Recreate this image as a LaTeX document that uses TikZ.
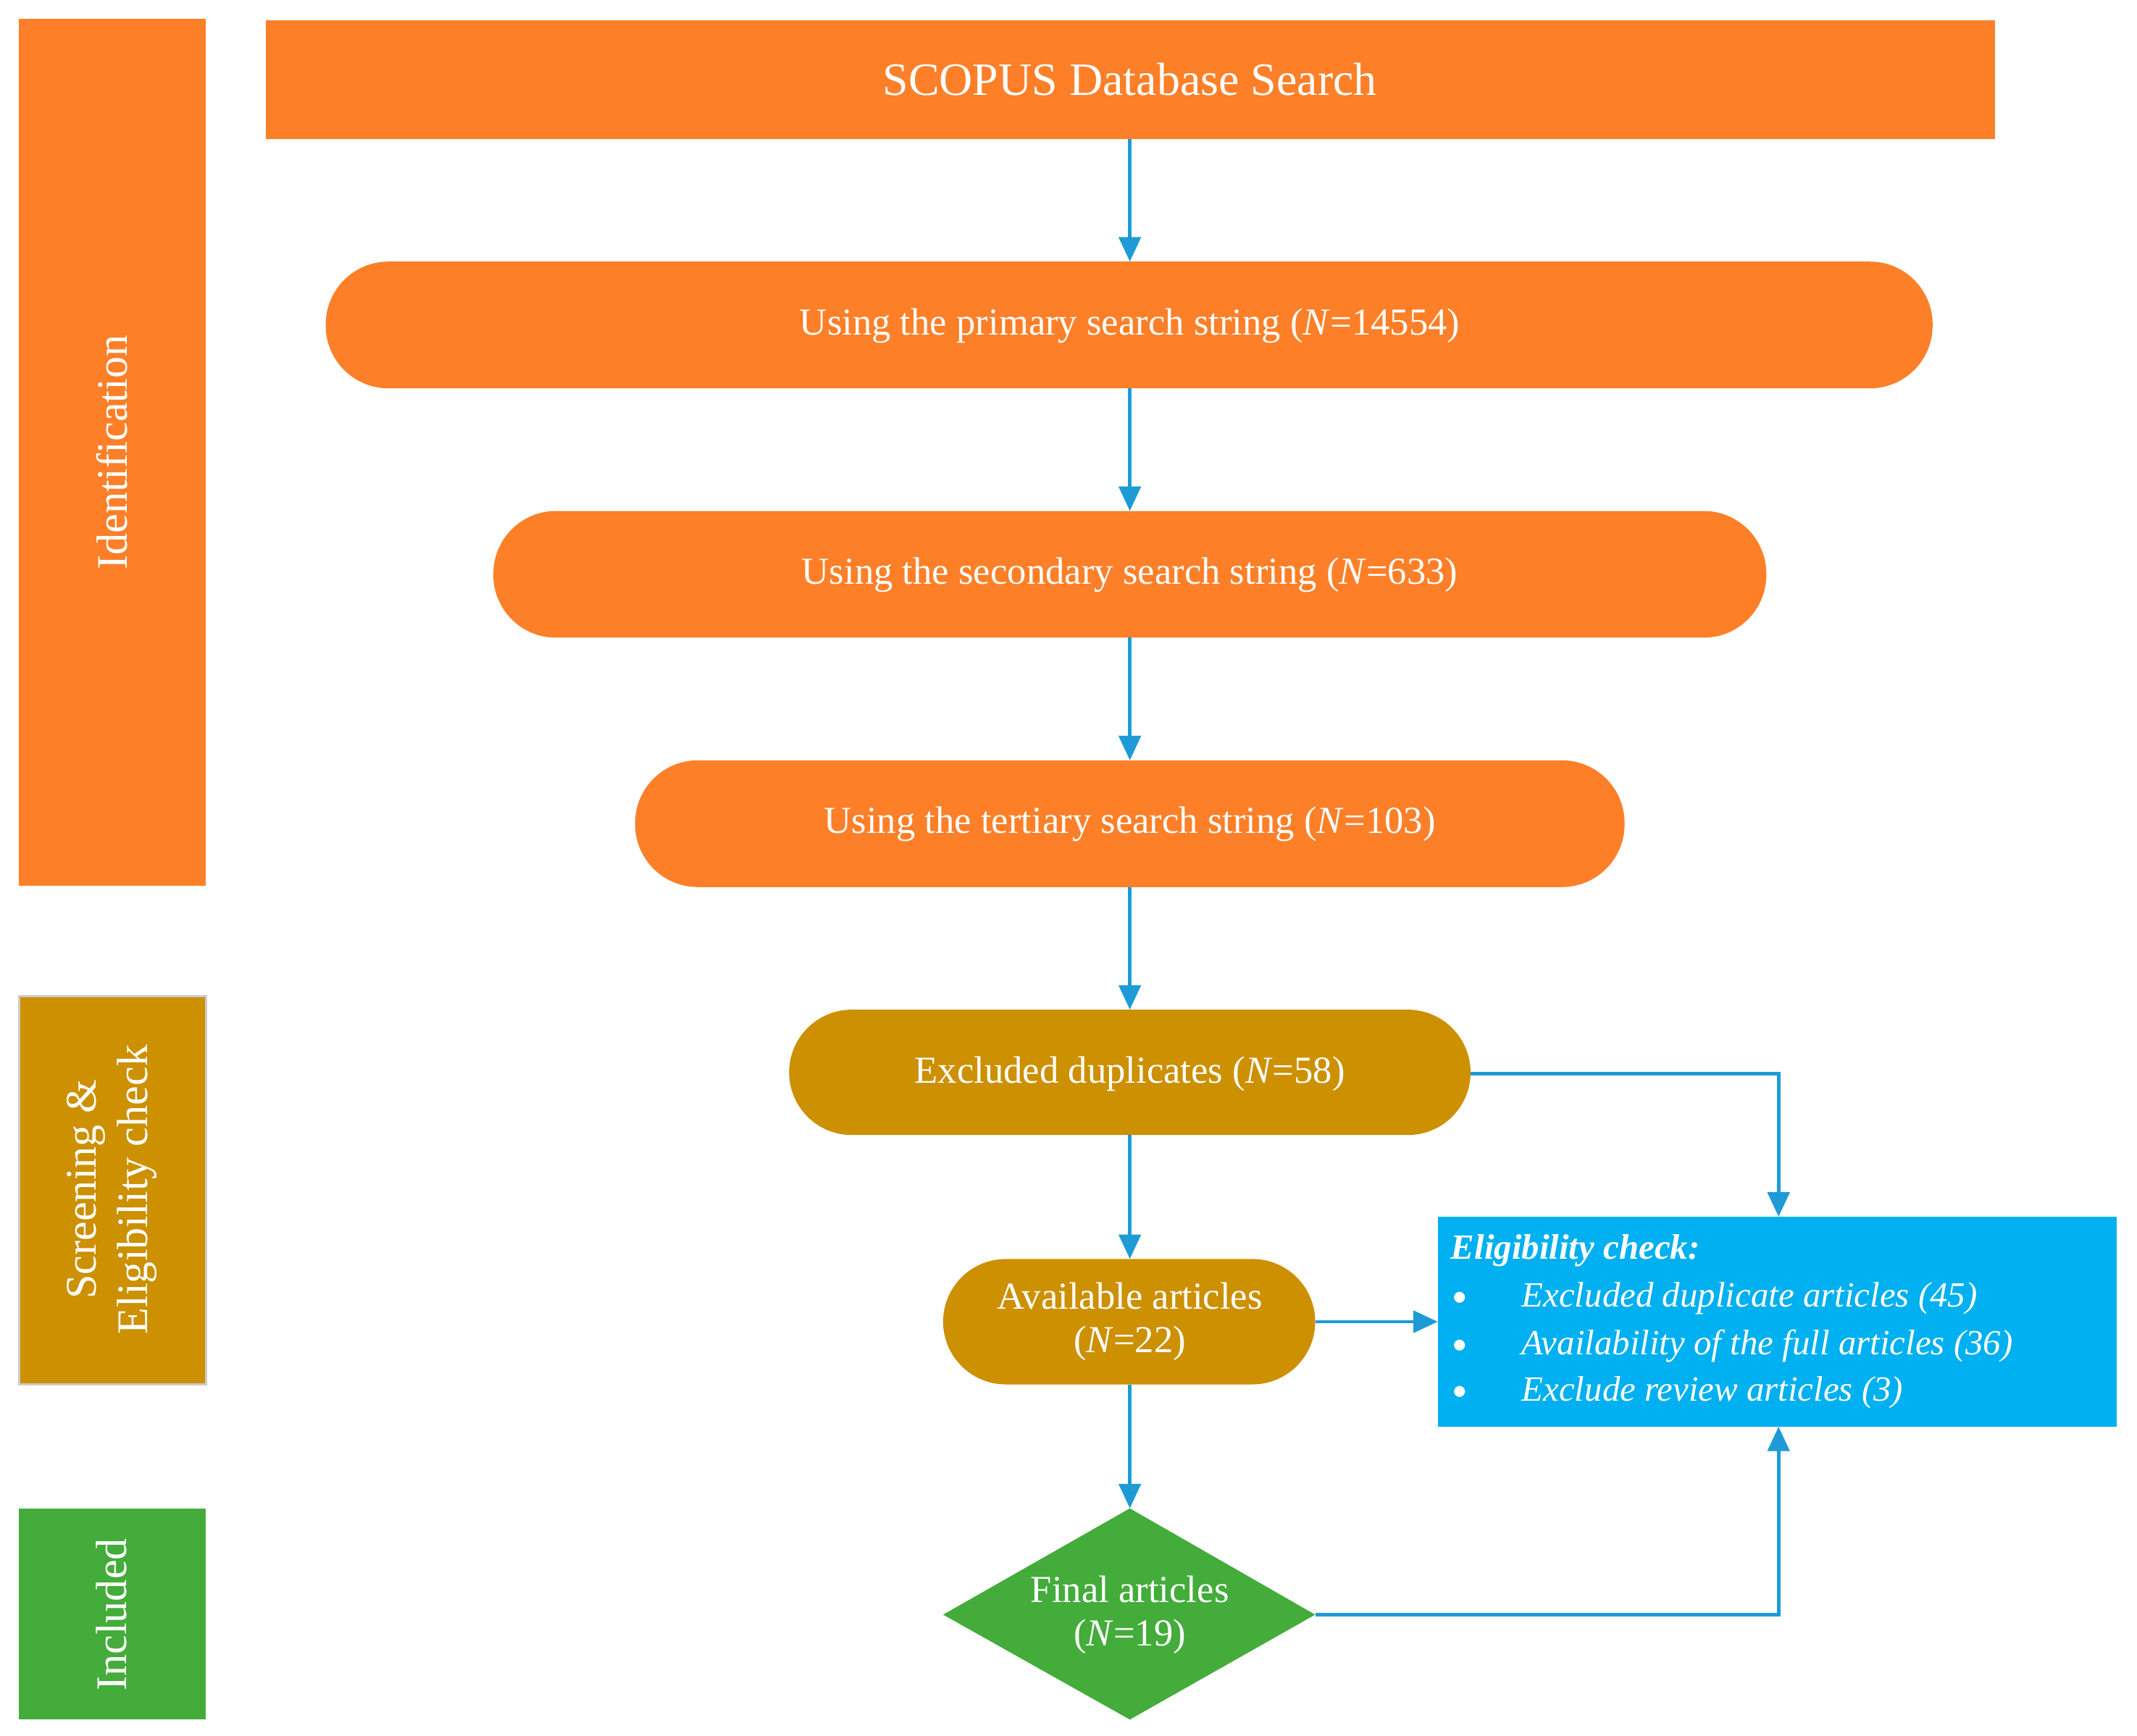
\documentclass[tikz,border=0pt]{standalone}
\usepackage{fontspec}
\setmainfont{Liberation Serif}
\usetikzlibrary{shapes.geometric,arrows.meta}
\definecolor{org}{HTML}{FD7F28}
\definecolor{gold}{HTML}{CC9000}
\definecolor{grn}{HTML}{43AC3A}
\definecolor{cy}{HTML}{00B0F0}
\definecolor{arr}{HTML}{1E9BD7}
\begin{document}
\begin{tikzpicture}[x=1pt,y=-1pt,
 rb/.style={rounded corners=46pt,text=white,font=\fontsize{28}{32}\selectfont},
 side/.style={text=white,font=\fontsize{32}{38}\selectfont,align=center},
 ar/.style={draw=arr,line width=2.6pt,-{Triangle[length=18pt,width=16pt]}}]
\useasboundingbox (0,0) rectangle (1568,1274);
% side bars
\fill[org] (14,14) rectangle (151,650);
\node[side,rotate=90] (idl) at (82,332) {Identification};
\filldraw[fill=gold,draw=gray!40,line width=1.5pt] (14,731) rectangle (151,1016);
\node[side,rotate=90] (scl) at (82,873) {Screening \&\\Eligibility check};
\fill[grn] (14,1107) rectangle (151,1262);
\node[side,rotate=90] (inl) at (82,1185) {Included};
% boxes
\fill[org] (195,15) rectangle (1464,102);
\node[text=white,font=\fontsize{34}{40}\selectfont] (s) at (829,58) {SCOPUS Database Search};
\fill[org,rounded corners=46pt] (239,192) rectangle (1418,285);
\node[rb] (p) at (829,239) {Using the primary search string (\textit{N}=14554)};
\fill[org,rounded corners=46pt] (362,375) rectangle (1296,468);
\node[rb] (q) at (829,422) {Using the secondary search string (\textit{N}=633)};
\fill[org,rounded corners=46pt] (466,558) rectangle (1192,651);
\node[rb] (t) at (829,605) {Using the tertiary search string (\textit{N}=103)};
\fill[gold,rounded corners=46pt] (579,741) rectangle (1079,833);
\node[rb] (e) at (829,788) {Excluded duplicates (\textit{N}=58)};
\fill[gold,rounded corners=46pt] (692,924) rectangle (965,1016);
\node[rb,align=center] (a) at (829,970) {Available articles\\(\textit{N}=22)};
\fill[grn] (829,1107) -- (965,1185) -- (829,1262) -- (692,1185) -- cycle;
\node[rb,align=center] (f) at (829,1185) {Final articles\\(\textit{N}=19)};
\fill[cy] (1055,893) rectangle (1553,1047);
\node[anchor=west,text=white,font=\fontsize{26}{30}\selectfont\bfseries\itshape] (el) at (1061,918) {Eligibility check:};
\foreach \yy/\tt in {953/Excluded duplicate articles (45),988/Availability of the full articles (36),1022/Exclude review articles (3)}{
 \node[text=white,font=\fontsize{22}{26}\selectfont] at (1071,\yy) {$\bullet$};
 \node[anchor=west,text=white,font=\fontsize{26}{30}\selectfont\itshape] at (1113,\yy) {\tt};}
\coordinate (pT) at (829,192); \coordinate (qT) at (829,375); \coordinate (tT) at (829,558);
\coordinate (eT) at (829,741); \coordinate (aT) at (829,924); \coordinate (fT) at (829,1107);
\coordinate (elT) at (1305,893); \coordinate (elB) at (1305,1047); \coordinate (elL) at (1055,970);
\draw[ar] (829,102) -- (pT);
\draw[ar] (829,285) -- (qT);
\draw[ar] (829,468) -- (tT);
\draw[ar] (829,651) -- (eT);
\draw[ar] (829,833) -- (aT);
\draw[ar] (829,1016) -- (fT);
\draw[ar] (1079,788) -| (elT);
\draw[ar] (965,970) -- (elL);
\draw[ar] (965,1185) -| (elB);
\end{tikzpicture}
\end{document}
